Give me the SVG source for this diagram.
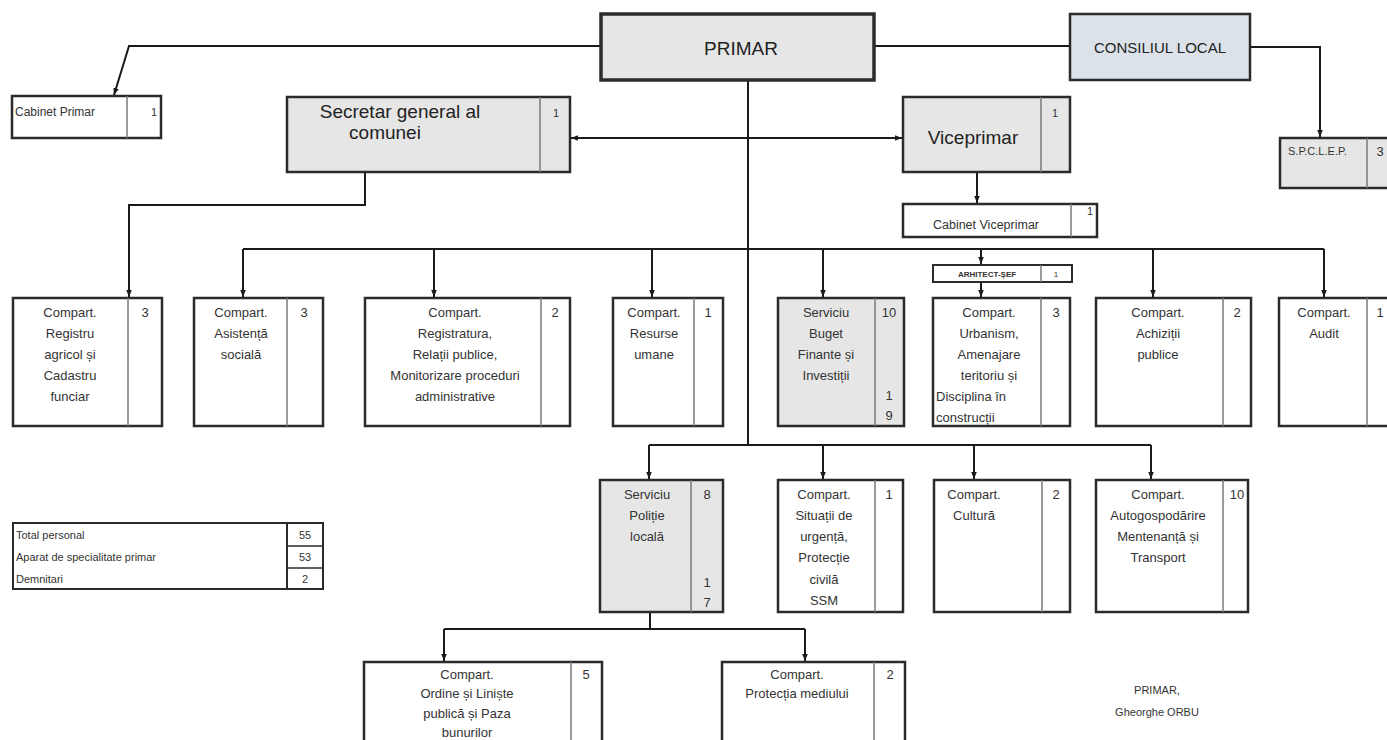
<svg xmlns="http://www.w3.org/2000/svg" width="1387" height="740" viewBox="0 0 1387 740">
<style>
.box{fill:#fff;stroke:#2b2b2b;stroke-width:2.5}
.g{fill:#e6e6e6}
.b{fill:#dce2ea}
.dv{stroke:#7a7a7a;stroke-width:1.5}
.t{font-family:"Liberation Sans",Arial,sans-serif;font-size:13px;fill:#333;text-anchor:middle}
.l{text-anchor:start}
.s{font-size:11px}
.big{font-size:19px;fill:#222}
.c{fill:none;stroke:#1a1a1a;stroke-width:2}
</style>
<defs>
<marker id="a" viewBox="0 0 10 10" refX="10" refY="5" markerWidth="7" markerHeight="7" markerUnits="userSpaceOnUse" orient="auto-start-reverse"><path d="M0,1 L10,5 L0,9 z" fill="#1a1a1a"/></marker>
</defs>
<rect width="1387" height="740" fill="#fff"/>

<g id="connectors">
<polyline class="c" points="601,46 129,46 114,95" marker-end="url(#a)"/>
<line class="c" x1="862" y1="46" x2="1070" y2="46"/>
<polyline class="c" points="1250,47 1320,47 1320,137" marker-end="url(#a)"/>
<line class="c" x1="571" y1="138" x2="902" y2="138" marker-start="url(#a)" marker-end="url(#a)"/>
<line class="c" x1="748" y1="80" x2="748" y2="445"/>
<polyline class="c" points="365,172 365,205 129,205 129,297" marker-end="url(#a)"/>
<line class="c" x1="977" y1="172" x2="977" y2="203" marker-end="url(#a)"/>
<line class="c" x1="243" y1="249" x2="1324" y2="249"/>
<line class="c" x1="243" y1="249" x2="243" y2="297" marker-end="url(#a)"/>
<line class="c" x1="434" y1="249" x2="434" y2="297" marker-end="url(#a)"/>
<line class="c" x1="652" y1="249" x2="652" y2="297" marker-end="url(#a)"/>
<line class="c" x1="823" y1="249" x2="823" y2="297" marker-end="url(#a)"/>
<line class="c" x1="981" y1="249" x2="981" y2="264" marker-end="url(#a)"/>
<line class="c" x1="981" y1="283" x2="981" y2="297" marker-end="url(#a)"/>
<line class="c" x1="1153" y1="249" x2="1153" y2="297" marker-end="url(#a)"/>
<line class="c" x1="1324" y1="249" x2="1324" y2="297" marker-end="url(#a)"/>
<line class="c" x1="649" y1="445" x2="1151" y2="445"/>
<line class="c" x1="649" y1="445" x2="649" y2="479" marker-end="url(#a)"/>
<line class="c" x1="823" y1="445" x2="823" y2="479" marker-end="url(#a)"/>
<line class="c" x1="974" y1="445" x2="974" y2="479" marker-end="url(#a)"/>
<line class="c" x1="1151" y1="445" x2="1151" y2="479" marker-end="url(#a)"/>
<polyline class="c" points="650,612 650,629"/>
<line class="c" x1="444" y1="629" x2="805" y2="629"/>
<line class="c" x1="444" y1="629" x2="444" y2="661" marker-end="url(#a)"/>
<line class="c" x1="805" y1="629" x2="805" y2="661" marker-end="url(#a)"/>
</g>

<g id="primar">
<rect class="box g" x="601" y="14" width="273" height="66" style="stroke-width:3.5"/>
<text class="t big" x="741" y="55">PRIMAR</text>
</g>
<g id="consiliul">
<rect class="box b" x="1070" y="14" width="180" height="66"/>
<text class="t" x="1160" y="53" style="font-size:15px;fill:#222">CONSILIUL LOCAL</text>
</g>
<g id="cabinet-primar">
<rect class="box" x="12" y="96" width="149" height="42"/>
<line class="dv" x1="127" y1="96" x2="127" y2="138"/>
<text class="t l" x="15" y="116" style="font-size:12px">Cabinet Primar</text>
<text class="t s" x="154" y="116">1</text>
</g>
<g id="secretar">
<rect class="box g" x="287" y="97" width="283" height="75"/>
<line class="dv" x1="540" y1="97" x2="540" y2="172"/>
<text class="t big" x="400" y="118">Secretar general al</text>
<text class="t big" x="385" y="139">comunei</text>
<text class="t s" x="556" y="117">1</text>
</g>
<g id="viceprimar">
<rect class="box g" x="903" y="97" width="167" height="75"/>
<line class="dv" x1="1041" y1="97" x2="1041" y2="172"/>
<text class="t big" x="973" y="144">Viceprimar</text>
<text class="t s" x="1055" y="117">1</text>
</g>
<g id="spclep">
<rect class="box g" x="1280" y="138" width="115" height="50"/>
<line class="dv" x1="1367" y1="138" x2="1367" y2="188"/>
<text class="t l s" x="1288" y="155">S.P.C.L.E.P.</text>
<text class="t" x="1380" y="156">3</text>
</g>
<g id="cabinet-viceprimar">
<rect class="box" x="903" y="204" width="194" height="33"/>
<line class="dv" x1="1071" y1="204" x2="1071" y2="237"/>
<text class="t" x="986" y="229" style="font-size:12.5px">Cabinet Viceprimar</text>
<text class="t s" x="1090" y="215">1</text>
</g>
<g id="arhitect">
<rect class="box" x="933" y="265" width="139" height="17" style="stroke-width:2"/>
<line class="dv" x1="1041" y1="265" x2="1041" y2="282"/>
<text class="t" x="987" y="277" style="font-size:8px;font-weight:bold">ARHITECT-ȘEF</text>
<text class="t" x="1056" y="277" style="font-size:8px">1</text>
</g>

<g id="registru">
<rect class="box" x="13" y="298" width="149" height="128"/>
<line class="dv" x1="128" y1="298" x2="128" y2="426"/>
<text class="t" x="70" y="317">Compart.</text>
<text class="t" x="70" y="338">Registru</text>
<text class="t" x="70" y="359">agricol și</text>
<text class="t" x="70" y="380">Cadastru</text>
<text class="t" x="70" y="401">funciar</text>
<text class="t" x="145" y="317">3</text>
</g>
<g id="asistenta">
<rect class="box" x="194" y="298" width="129" height="128"/>
<line class="dv" x1="287" y1="298" x2="287" y2="426"/>
<text class="t" x="241" y="317">Compart.</text>
<text class="t" x="241" y="338">Asistență</text>
<text class="t" x="241" y="359">socială</text>
<text class="t" x="304" y="317">3</text>
</g>
<g id="registratura">
<rect class="box" x="365" y="298" width="205" height="128"/>
<line class="dv" x1="541" y1="298" x2="541" y2="426"/>
<text class="t" x="455" y="317">Compart.</text>
<text class="t" x="455" y="338">Registratura,</text>
<text class="t" x="455" y="359">Relații publice,</text>
<text class="t" x="455" y="380">Monitorizare proceduri</text>
<text class="t" x="455" y="401">administrative</text>
<text class="t" x="555" y="317">2</text>
</g>
<g id="resurse">
<rect class="box" x="613" y="298" width="110" height="128"/>
<line class="dv" x1="694" y1="298" x2="694" y2="426"/>
<text class="t" x="654" y="317">Compart.</text>
<text class="t" x="654" y="338">Resurse</text>
<text class="t" x="654" y="359">umane</text>
<text class="t" x="708" y="317">1</text>
</g>
<g id="buget">
<rect class="box g" x="778" y="298" width="126" height="128"/>
<line class="dv" x1="875" y1="298" x2="875" y2="426"/>
<text class="t" x="826" y="317">Serviciu</text>
<text class="t" x="826" y="338">Buget</text>
<text class="t" x="826" y="359">Finante și</text>
<text class="t" x="826" y="380">Investiții</text>
<text class="t" x="889" y="317">10</text>
<text class="t" x="889" y="400">1</text>
<text class="t" x="889" y="420">9</text>
</g>
<g id="urbanism">
<rect class="box" x="933" y="298" width="137" height="128"/>
<line class="dv" x1="1041" y1="298" x2="1041" y2="426"/>
<text class="t" x="989" y="317">Compart.</text>
<text class="t" x="989" y="338">Urbanism,</text>
<text class="t" x="989" y="359">Amenajare</text>
<text class="t" x="989" y="380">teritoriu și</text>
<text class="t l" x="936" y="401">Disciplina în</text>
<text class="t l" x="936" y="422">construcții</text>
<text class="t" x="1056" y="317">3</text>
</g>
<g id="achizitii">
<rect class="box" x="1096" y="298" width="155" height="128"/>
<line class="dv" x1="1223" y1="298" x2="1223" y2="426"/>
<text class="t" x="1158" y="317">Compart.</text>
<text class="t" x="1158" y="338">Achiziții</text>
<text class="t" x="1158" y="359">publice</text>
<text class="t" x="1237" y="317">2</text>
</g>
<g id="audit">
<rect class="box" x="1279" y="298" width="116" height="128"/>
<line class="dv" x1="1367" y1="298" x2="1367" y2="426"/>
<text class="t" x="1324" y="317">Compart.</text>
<text class="t" x="1324" y="338">Audit</text>
<text class="t" x="1380" y="317">1</text>
</g>

<g id="politie">
<rect class="box g" x="600" y="480" width="123" height="132"/>
<line class="dv" x1="691" y1="480" x2="691" y2="612"/>
<text class="t" x="647" y="499">Serviciu</text>
<text class="t" x="647" y="520">Poliție</text>
<text class="t" x="647" y="541">locală</text>
<text class="t" x="707" y="499">8</text>
<text class="t" x="707" y="587">1</text>
<text class="t" x="707" y="607">7</text>
</g>
<g id="situatii">
<rect class="box" x="778" y="480" width="125" height="132"/>
<line class="dv" x1="875" y1="480" x2="875" y2="612"/>
<text class="t" x="824" y="499">Compart.</text>
<text class="t" x="824" y="520">Situații de</text>
<text class="t" x="824" y="541">urgență,</text>
<text class="t" x="824" y="562">Protecție</text>
<text class="t" x="824" y="584">civilă</text>
<text class="t" x="824" y="605">SSM</text>
<text class="t" x="889" y="499">1</text>
</g>
<g id="cultura">
<rect class="box" x="934" y="480" width="136" height="132"/>
<line class="dv" x1="1042" y1="480" x2="1042" y2="612"/>
<text class="t" x="974" y="499">Compart.</text>
<text class="t" x="974" y="520">Cultură</text>
<text class="t" x="1056" y="499">2</text>
</g>
<g id="autogospodarire">
<rect class="box" x="1096" y="480" width="152" height="132"/>
<line class="dv" x1="1223" y1="480" x2="1223" y2="612"/>
<text class="t" x="1158" y="499">Compart.</text>
<text class="t" x="1158" y="520">Autogospodărire</text>
<text class="t" x="1158" y="541">Mentenanță și</text>
<text class="t" x="1158" y="562">Transport</text>
<text class="t" x="1237" y="499">10</text>
</g>

<g id="ordine">
<rect class="box" x="364" y="662" width="238" height="90"/>
<line class="dv" x1="571" y1="662" x2="571" y2="752"/>
<text class="t" x="467" y="679">Compart.</text>
<text class="t" x="467" y="698">Ordine și Liniște</text>
<text class="t" x="467" y="718">publică și Paza</text>
<text class="t" x="467" y="737">bunurilor</text>
<text class="t" x="586" y="679">5</text>
</g>
<g id="protectia">
<rect class="box" x="722" y="662" width="183" height="90"/>
<line class="dv" x1="874" y1="662" x2="874" y2="752"/>
<text class="t" x="797" y="679">Compart.</text>
<text class="t" x="797" y="698">Protecția mediului</text>
<text class="t" x="890" y="679">2</text>
</g>

<g id="totals">
<rect class="box" x="13" y="523" width="310" height="66" style="stroke-width:2"/>
<line x1="287" y1="523" x2="287" y2="589" stroke="#2b2b2b" stroke-width="2"/>
<line x1="287" y1="546" x2="323" y2="546" stroke="#2b2b2b" stroke-width="1.5"/>
<line x1="287" y1="568" x2="323" y2="568" stroke="#2b2b2b" stroke-width="1.5"/>
<text class="t l s" x="16" y="539">Total personal</text>
<text class="t l s" x="16" y="561">Aparat de specialitate primar</text>
<text class="t l s" x="16" y="583">Demnitari</text>
<text class="t s" x="305" y="539">55</text>
<text class="t s" x="305" y="561">53</text>
<text class="t s" x="305" y="583">2</text>
</g>

<g id="semnatura">
<text class="t s" x="1157" y="694">PRIMAR,</text>
<text class="t s" x="1157" y="716">Gheorghe ORBU</text>
</g>
</svg>
